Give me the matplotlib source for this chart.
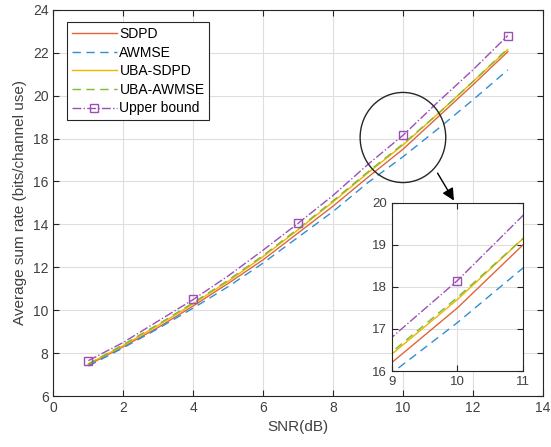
import numpy as np
import matplotlib
matplotlib.use('Agg')
import matplotlib.pyplot as plt
from matplotlib.patches import Ellipse

plt.rcParams['font.family'] = ['Liberation Sans', 'DejaVu Sans']

snr = [1, 2, 3, 4, 5, 6, 7, 8, 9, 10, 11, 12, 13]
sdpd = [7.45, 8.3, 9.2, 10.2, 11.25, 12.35, 13.6, 14.85, 16.2, 17.5, 19.0, 20.5, 22.05]
awmse = [7.4, 8.25, 9.15, 10.1, 11.1, 12.2, 13.4, 14.6, 15.95, 17.15, 18.45, 19.8, 21.2]
uba_sdpd = [7.5, 8.35, 9.3, 10.3, 11.35, 12.5, 13.75, 15.05, 16.4, 17.7, 19.15, 20.65, 22.15]
uba_awmse = [7.5, 8.4, 9.35, 10.35, 11.4, 12.55, 13.8, 15.1, 16.45, 17.75, 19.15, 20.65, 22.2]
upper = [7.65, 8.5, 9.5, 10.5, 11.6, 12.8, 14.05, 15.35, 16.8, 18.15, 19.7, 21.2, 22.8]
labels = ['SDPD', 'AWMSE', 'UBA-SDPD', 'UBA-AWMSE', 'Upper bound']

c_sdpd = '#E0653A'
c_awmse = '#2D8FD5'
c_uba_s = '#F0B400'
c_uba_a = '#7DBA2F'
c_ub = '#9B4FB5'
axcol = '#262626'


def draw(ax, lw=1.0, ms=6):
    ax.plot(snr, sdpd, '-', color=c_sdpd, lw=lw, label=labels[0])
    ax.plot(snr, awmse, '--', color=c_awmse, lw=lw, dashes=(6, 4), label=labels[1])
    ax.plot(snr, uba_sdpd, '-', color=c_uba_s, lw=lw, label=labels[2])
    ax.plot(snr, uba_awmse, '--', color=c_uba_a, lw=lw, dashes=(6, 4), label=labels[3])
    ax.plot(snr, upper, '-.', color=c_ub, lw=lw, marker='s', ms=ms,
            mfc='none', mec=c_ub, markevery=[0, 3, 6, 9, 12], label=labels[4])


def matlab_style(ax, fs):
    ax.grid(True, color='#DEDEDE', lw=0.8)
    ax.set_axisbelow(True)
    ax.tick_params(direction='in', colors=axcol, labelcolor='#404040', labelsize=fs,
                   length=4, top=True, right=True, labeltop=False, labelright=False)
    for s in ax.spines.values():
        s.set_color(axcol)
        s.set_linewidth(0.8)


fig = plt.figure(figsize=(5.51, 4.47), dpi=100)
ax = fig.add_axes([0.097, 0.114, 0.888, 0.864])
draw(ax)
ax.set_xlim(0, 14)
ax.set_ylim(6, 24)
ax.set_xticks(np.arange(0, 15, 2))
ax.set_yticks(np.arange(6, 25, 2))
matlab_style(ax, 10)
ax.set_xlabel('SNR(dB)', fontsize=11, color='#404040')
ax.set_ylabel('Average sum rate (bits/channel use)', fontsize=11, color='#404040')

leg = ax.legend(loc='upper left', bbox_to_anchor=(0.027, 0.968), fontsize=10,
                fancybox=False, edgecolor=axcol, framealpha=1,
                handlelength=3.3, handletextpad=0.15, labelspacing=0.33,
                borderpad=0.35, borderaxespad=0)
leg.get_frame().set_linewidth(0.8)

# circle around zoomed region
ax.add_patch(Ellipse((10.0, 18.05), 2.45, 4.2, fill=False, ec=axcol, lw=1.0, zorder=5))

# inset
axins = fig.add_axes([0.711, 0.170, 0.238, 0.376])
draw(axins, lw=1.0, ms=6)
axins.set_xlim(9, 11)
axins.set_ylim(16, 20)
axins.set_xticks([9, 10, 11])
axins.set_yticks([16, 17, 18, 19, 20])
matlab_style(axins, 9.5)
axins.set_facecolor('white')

fig.patches.append(matplotlib.patches.FancyArrowPatch(
    (10.95, 16.5), (11.5, 15.0), transform=ax.transData, figure=fig,
    arrowstyle='-|>', mutation_scale=18, color='black', lw=1.0, zorder=10))

fig.savefig('out.png', dpi=100)
